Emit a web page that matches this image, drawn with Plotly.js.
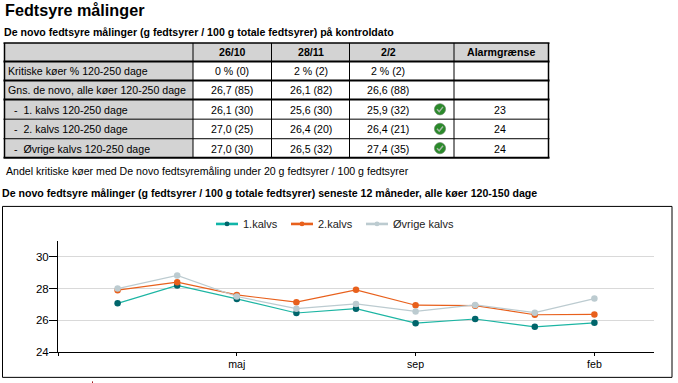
<!DOCTYPE html>
<html><head><meta charset="utf-8">
<script src="https://cdn.plot.ly/plotly-3.0.1.min.js"></script>
<style>html,body{margin:0;padding:0;background:#fff}</style></head>
<body><div id="chart" style="width:678px;height:383px"></div>
<script>
// ---- chart data ----
var monthIndex = [0,1,2,3,4,5,6,7,8];
var kalvs1 = [27.07,28.2,27.35,26.46,26.73,25.82,26.08,25.59,25.84];
var kalvs2 = [27.9,28.4,27.6,27.14,27.92,26.95,26.92,26.35,26.37];
var kalvsOevrige = [28.0,28.83,27.5,26.73,27.03,26.56,26.97,26.48,27.37];
var tickIndex = [-1,2,5,8];
var tickLabels = ['','maj','sep','feb'];
// ---- table data ----
var tableHeader = ['','26/10','28/11','2/2','Alarmgrænse'];
var rowLabels = ['Kritiske køer % 120-250 dage','Gns. de novo, alle køer 120-250 dage','  -  1. kalvs 120-250 dage','  -  2. kalvs 120-250 dage','  -  Øvrige kalvs 120-250 dage'];
var col1 = ['0 % (0)','26,7 (85)','26,1 (30)','27,0 (25)','27,0 (30)'];
var col2 = ['2 % (2)','26,1 (82)','25,6 (30)','26,4 (20)','26,5 (32)'];
var col3 = ['2 % (2)','26,6 (88)','25,9 (32)','26,4 (21)','27,4 (35)'];
var alarm = ['','','23','24','24'];
var okFlag = [false,false,true,true,true];
// ---- texts ----
var mainTitle = 'Fedtsyre målinger';
var subTitle = 'De novo fedtsyre målinger (g fedtsyrer / 100 g totale fedtsyrer) på kontroldato';
var noteText = 'Andel kritiske køer med De novo fedtsyremåling under 20 g fedtsyrer / 100 g fedtsyrer';
var chartTitle = 'De novo fedtsyre målinger (g fedtsyrer / 100 g totale fedtsyrer) seneste 12 måneder, alle køer 120-150 dage';

// ---- page geometry (pixels) ----
var W=678,H=383,pL=58,pR=654,pT=241,pB=351.7;
var colX=[4.5,193,271.5,349.5,454,548.5];
var rowY=[43.5,62,81,100,119.5,139,158];
function fx(x){return (x-pL)/(pR-pL);}
function fy(y){return (pB-y)/(pB-pT);}
var FONT='"Liberation Sans", Arial, sans-serif';
var ann=[],shp=[];
function text(x,y,s,size,anchor,bold,col){
  ann.push({xref:'paper',yref:'paper',x:fx(x),y:fy(y),text:bold?'<b>'+s+'</b>':s,showarrow:false,
    xanchor:anchor,yanchor:'middle',borderpad:0,borderwidth:0,
    font:{family:FONT,size:size,color:col||'#000'}});
}
function rect(x0,y0,x1,y1,fill,lc,lw){
  shp.push({type:'rect',xref:'paper',yref:'paper',x0:fx(x0),x1:fx(x1),y0:fy(y0),y1:fy(y1),
    fillcolor:fill||'rgba(0,0,0,0)',line:{color:lc||'rgba(0,0,0,0)',width:lw||0},layer:'below'});
}
function line(x0,y0,x1,y1,w,c){
  shp.push({type:'line',xref:'paper',yref:'paper',x0:fx(x0),x1:fx(x1),y0:fy(y0),y1:fy(y1),
    line:{color:c||'#000',width:w},layer:'below'});
}
function dot(cx,c,r,fill,lc,lw){
  shp.push({type:'circle',xref:'paper',yref:'paper',x0:fx(cx-r),x1:fx(cx+r),y0:fy(c-r),y1:fy(c+r),
    fillcolor:fill,line:{color:lc||fill,width:lw||0},layer:'above'});
}
// grey fills
rect(colX[0],rowY[0],colX[1],rowY[6],'#d3d3d3');
rect(colX[1],rowY[0],colX[5],rowY[1],'#d3d3d3');
// grid lines
var rowW=[1.5,2,2,2,1,1,2];
rowY.forEach(function(y,i){line(colX[0]-1,y,colX[5]+1,y,rowW[i]);});
colX.forEach(function(x,i){line(x,rowY[0],x,rowY[6],(i==0||i==5)?1.5:1);});
// table text
var TS=10.6;
tableHeader.forEach(function(h,i){ if(h) text(i==3?388:(colX[i]+colX[i+1])/2,53,h,TS,'center',true); });
var cy=function(i){return (rowY[i+1]+rowY[i+2])/2+0.3;};
rowLabels.forEach(function(s,i){
  var t=s.replace(/^\s+/,'');
  var ind=s.length!=t.length;
  text(ind?13.5:8,cy(i),t.replace(/  /g,'&nbsp;&nbsp;'),TS,'left',false);
});
[col1,col2].forEach(function(c,k){c.forEach(function(s,i){text((colX[k+1]+colX[k+2])/2,cy(i),s,TS,'center');});});
col3.forEach(function(s,i){text(387.5,cy(i),s,TS,'center');});
alarm.forEach(function(s,i){ if(s) text(500,cy(i),s,TS,'center');});
// status icons
okFlag.forEach(function(f,i){
  if(!f) return;
  var cx=440,c=cy(i)-0.4;
  dot(cx,c,5.6,'#2a8a2a','#5f7f5f',0.6);
  shp.push({type:'path',xref:'paper',yref:'paper',
    path:'M '+fx(cx-3)+' '+fy(c)+' L '+fx(cx-0.8)+' '+fy(c+2.3)+' L '+fx(cx+3)+' '+fy(c-2.4),
    line:{color:'#a8b8a8',width:1.5},layer:'above'});
});
// titles
text(5,11,mainTitle,16.2,'left',true);
text(4,32.5,subTitle,10.6,'left',true);
text(6,171,noteText,10.6,'left',false);
text(1.5,193,chartTitle,10.6,'left',true);
// chart frame
rect(2.5,206.5,672,377,null,'#000',1);
// clipped mark at the bottom edge
line(92.5,381,92.5,383,1,'#a01818');

var series=[{name:'1.kalvs',y:kalvs1,lc:'#1cb5a3',mc:'#00656b',k:'#10b5a8'},
            {name:'2.kalvs',y:kalvs2,lc:'#e8601c',mc:'#e8601c',k:'#e8601c'},
            {name:'Øvrige kalvs',y:kalvsOevrige,lc:'#bccbd0',mc:'#bccbd0',k:'#bccbd0'}];
var traces=series.map(function(s){return {type:'scatter',mode:'lines+markers',name:s.name,x:monthIndex,y:s.y,
  line:{color:s.lc,width:1.2},marker:{color:s.mc,size:6.5},hoverinfo:'none',showlegend:false};});
// legend row
series.forEach(function(s,i){
  var x=216+75*i, ly=224;
  line(x,ly,x+22,ly,2.6,s.k);
  dot(x+11,ly,2.4,s.mc);
  text(x+27,ly,s.name,11,'left',false,'#222');
});

Plotly.newPlot('chart',traces,{
  width:W,height:H,paper_bgcolor:'#fff',plot_bgcolor:'#fff',
  margin:{l:pL,r:W-pR,t:pT,b:H-pB,pad:0},
  font:{family:FONT,size:11,color:'#000'},
  showlegend:false,
  xaxis:{range:[-1,9],tickmode:'array',tickvals:tickIndex,ticktext:tickLabels,showgrid:false,zeroline:false,
    showline:true,linecolor:'#000',linewidth:1,ticks:'outside',ticklen:3,tickcolor:'#000',tickwidth:1,ticklabelstandoff:-1,
    tickfont:{family:FONT,size:10.6,color:'#000'}},
  yaxis:{range:[24,31],tickvals:[24,26,28,30],showgrid:true,gridcolor:'#d9d9d9',gridwidth:1,zeroline:false,
    showline:true,linecolor:'#000',linewidth:1,ticks:'outside',ticklen:8,tickcolor:'#000',tickwidth:1,ticklabelstandoff:-2,
    tickfont:{family:FONT,size:11.5,color:'#000'}},
  annotations:ann,shapes:shp
},{displayModeBar:false,staticPlot:true});
</script></body></html>
